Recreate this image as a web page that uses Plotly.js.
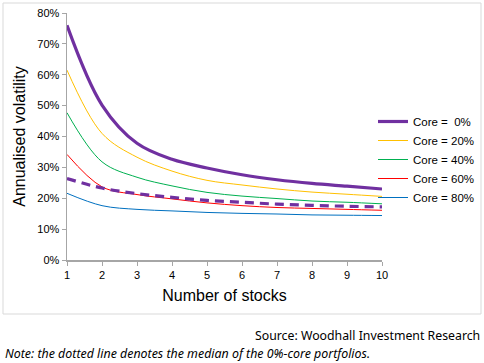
<!DOCTYPE html>
<html>
<head>
<meta charset="utf-8">
<script src="https://cdn.plot.ly/plotly-3.0.1.min.js"></script>
<style>html,body{margin:0;padding:0;background:#fff;}#chart{width:484px;height:363px;}</style>
</head>
<body>
<div id="chart"></div>
<script>
const stocks = [1, 2, 3, 4, 5, 6, 7, 8, 9, 10];
const core0  = [76.0, 50.2, 37.8, 32.6, 29.8, 27.6, 26.0, 24.8, 23.9, 23.0];
const core20 = [61.5, 41.0, 33.3, 28.8, 25.8, 24.3, 23.0, 22.0, 21.3, 20.6];
const core40 = [47.7, 31.8, 26.8, 24.0, 21.9, 20.7, 19.9, 19.1, 18.7, 18.2];
const core60 = [34.2, 23.7, 21.2, 19.8, 18.5, 17.6, 17.0, 16.7, 16.4, 16.1];
const core80 = [21.6, 17.6, 16.4, 15.9, 15.4, 15.1, 14.9, 14.6, 14.5, 14.4];
const median0 = [26.4, 23.3, 21.5, 20.3, 19.3, 18.7, 18.1, 17.7, 17.4, 17.2];
const seriesNames = ['Core =\u00a0 0%', 'Core = 20%', 'Core = 40%', 'Core = 60%', 'Core = 80%'];
const tickVals = [0, 10, 20, 30, 40, 50, 60, 70, 80];

const colors = ['#7030A0', '#FFC000', '#00B050', '#FF0000', '#0070C0'];
const widths = [3.2, 1, 1, 1, 1];
const series = [core0, core20, core40, core60, core80];

const traces = series.map((s, i) => ({
  x: stocks, y: s, type: 'scatter', mode: 'lines', name: seriesNames[i],
  line: {color: colors[i], width: widths[i], shape: 'spline', smoothing: 1},
  hoverinfo: 'skip'
}));
traces.push({
  x: stocks, y: median0, type: 'scatter', mode: 'lines', name: 'median',
  showlegend: false,
  line: {color: '#7030A0', width: 3.2, dash: '9px,6px', shape: 'spline', smoothing: 1},
  hoverinfo: 'skip'
});

const L = 67, R = 382, T = 13, B = 260, W = 484, H = 363;
const px = v => (v - L) / (R - L);
const py = v => (B - v) / (B - T);

const layout = {
  width: W, height: H,
  margin: {l: L, r: W - R, t: T, b: H - B, pad: 0, autoexpand: false},
  paper_bgcolor: '#fff', plot_bgcolor: '#fff',
  font: {family: 'Arial, Liberation Sans, sans-serif', color: '#000', size: 11},
  showlegend: true,
  legend: {
    x: px(373), y: py(107), xanchor: 'left', yanchor: 'top',
    font: {size: 11.5, family: 'Arial, Liberation Sans, sans-serif', color: '#000'},
    itemwidth: 30, tracegroupgap: 0, bgcolor: 'rgba(0,0,0,0)', borderwidth: 0
  },
  xaxis: {
    range: [1, 10], dtick: 1, tick0: 1, showgrid: false, zeroline: false,
    showline: true, linecolor: '#a6a6a6', linewidth: 1.5,
    ticks: 'outside', ticklen: 4, tickcolor: '#a6a6a6', tickwidth: 1,
    tickfont: {size: 11},
    title: {text: 'Number of stocks', font: {size: 16}, standoff: 10}
  },
  yaxis: {
    range: [0, 80], tickvals: tickVals, ticktext: tickVals.map(v => v + '%'),
    showgrid: false, zeroline: false,
    showline: true, linecolor: '#a6a6a6', linewidth: 1.5,
    ticks: 'outside', ticklen: 4, tickcolor: '#a6a6a6', tickwidth: 1,
    tickfont: {size: 11},
    title: {text: 'Annualised volatility', font: {size: 16}}
  },
  shapes: [{
    type: 'rect', xref: 'paper', yref: 'paper',
    x0: px(3), x1: px(481), y0: py(314), y1: py(3),
    line: {color: '#d9d9d9', width: 1}, fillcolor: 'rgba(0,0,0,0)', layer: 'below'
  }],
  annotations: [
    {text: 'Source: Woodhall Investment Research', xref: 'paper', yref: 'paper',
     x: px(482), y: py(335), xanchor: 'right', yanchor: 'middle', showarrow: false,
     font: {family: 'Noto Sans, Open Sans, sans-serif', size: 12.3, color: '#000'}},
    {text: '<i>Note: the dotted line denotes the median of the 0%-core portfolios.</i>', xref: 'paper', yref: 'paper',
     x: px(3), y: py(353), xanchor: 'left', yanchor: 'middle', showarrow: false,
     font: {family: 'Noto Sans, Open Sans, sans-serif', size: 12.4, color: '#000'}}
  ]
};

Plotly.newPlot('chart', traces, layout, {displayModeBar: false, staticPlot: true});
</script>
</body>
</html>
